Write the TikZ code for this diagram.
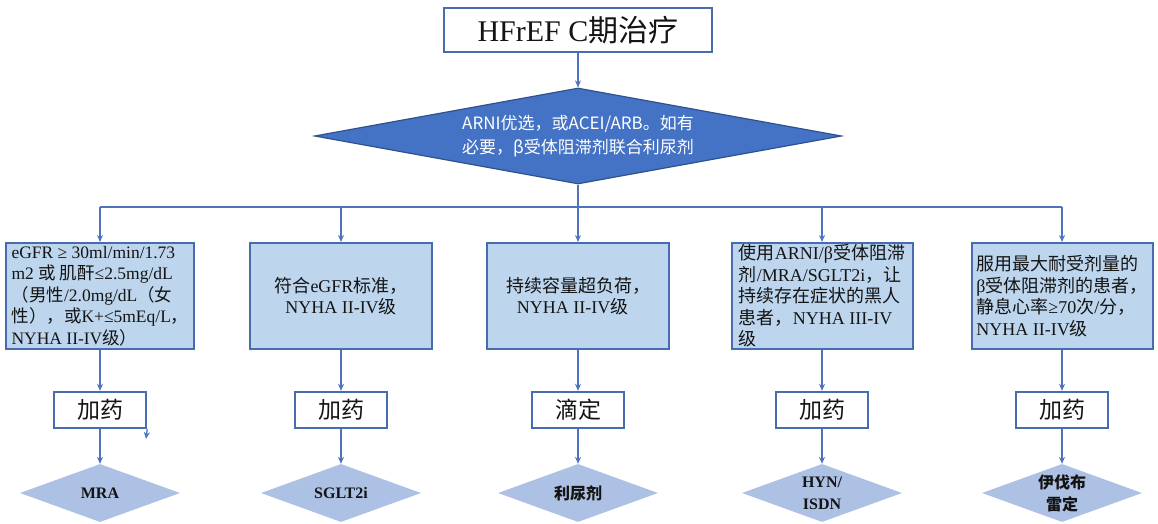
\documentclass[tikz,border=0pt]{standalone}
\usepackage{fontspec}
\setmainfont{Liberation Serif}
\newfontfamily\cjk{Noto Sans CJK SC}
\newcommand\zh[1]{{\cjk #1}}
\usetikzlibrary{shapes.geometric,arrows.meta}
\definecolor{boxfill}{RGB}{189,214,238}
\definecolor{boxline}{RGB}{72,108,176}
\definecolor{conn}{RGB}{80,115,190}
\definecolor{topfill}{RGB}{68,114,196}
\definecolor{topline}{RGB}{47,82,143}
\definecolor{botfill}{RGB}{172,193,228}
\definecolor{titletxt}{RGB}{20,20,20}
\tikzset{
  conline/.style={draw=conn, line width=1.3pt},
  arr/.style={conline, -{Stealth[length=7pt,width=6pt]}},
  titlebox/.style={draw=boxline, line width=2pt, fill=white, minimum width=268pt, minimum height=44pt, inner sep=0pt, font=\fontsize{30}{34}\selectfont, text=titletxt},
  topdia/.style={diamond, aspect=5.5, draw=topline, line width=1.2pt, fill=topfill, minimum width=527pt, minimum height=96pt, inner sep=0pt, text=white, align=center, font=\cjk\fontsize{17}{24}\selectfont},
  bigbox/.style={draw=boxline, line width=2pt, fill=boxfill, minimum width=182pt, minimum height=106pt, inner sep=0pt, align=left, font=\fontsize{18}{21.5}\selectfont, text=titletxt},
  smallbox/.style={draw=boxline, line width=2.4pt, fill=white, minimum width=92pt, minimum height=36pt, inner sep=0pt, font=\cjk\fontsize{23}{26}\selectfont, text=titletxt},
  botdia/.style={diamond, aspect=2.76, fill=botfill, minimum width=160pt, minimum height=58pt, inner sep=0pt, align=center, font=\bfseries\fontsize{16}{22}\selectfont, text=titletxt}
}
\begin{document}
\begin{tikzpicture}[x=1pt,y=-1pt]
\useasboundingbox[fill=white] (0,0) rectangle (1158,524);

\node[titlebox] (t) at (578,30) {HFrEF C\zh{期治疗}};
\node[topdia] (d) at (578,136) {ARNI优选，或ACEI/ARB。如有\\必要，β受体阻滞剂联合利尿剂};
\draw[arr] (t.south) -- (d.north);

\coordinate (j1) at (100,207);
\coordinate (j2) at (341,207);
\coordinate (j3) at (578,207);
\coordinate (j4) at (822,207);
\coordinate (j5) at (1062,207);
\draw[conline] (j1) -- (j5);
\draw[conline] (d.south) -- (j3);

\node[bigbox, minimum width=188pt, font=\fontsize{17.5}{21.5}\selectfont] (b1) at (100,296) {eGFR ≥ 30ml/min/1.73\\m2 \zh{或 肌酐}≤2.5mg/dL\\\zh{（男性}/2.0mg/dL\zh{（女}\\\zh{性），或}K+≤5mEq/L\zh{，}\\NYHA II-IV\zh{级）}};
\node[bigbox] (b2) at (341,296) {\zh{符合}eGFR\zh{标准，}\\\hspace*{0.6em}NYHA II-IV\zh{级}};
\node[bigbox] (b3) at (578,296) {\zh{持续容量超负荷，}\\\hspace*{0.6em}NYHA II-IV\zh{级}};
\node[bigbox, minimum width=181pt] (b4) at (822,296) {\zh{使用}ARNI/β\zh{受体阻滞}\\\zh{剂}/MRA/SGLT2i\zh{，让}\\\zh{持续存在症状的黑人}\\\zh{患者，}NYHA III-IV\\\zh{级}};
\node[bigbox, minimum width=181pt] (b5) at (1062,296) {\zh{服用最大耐受剂量的}\\β\zh{受体阻滞剂的患者，}\\\zh{静息心率}≥70\zh{次}/\zh{分，}\\NYHA II-IV\zh{级}};

\foreach \i in {1,...,5} {\draw[arr] (j\i) -- (b\i.north);}

\node[smallbox] (s1) at (100,410) {加药};
\node[smallbox] (s2) at (341,410) {加药};
\node[smallbox] (s3) at (578,410) {滴定};
\node[smallbox] (s4) at (822,410) {加药};
\node[smallbox] (s5) at (1062,410) {加药};

\node[botdia] (m1) at (100,493) {MRA};
\node[botdia] (m2) at (341,493) {SGLT2i};
\node[botdia] (m3) at (578,493) {\zh{利尿剂}};
\node[botdia] (m4) at (822,493) {HYN/\\ISDN};
\node[botdia] (m5) at (1062,493) {\zh{伊伐布}\\\zh{雷定}};

\foreach \i in {1,...,5} {
  \draw[arr] (b\i.south) -- (s\i.north);
  \draw[arr] (s\i.south) -- (m\i.north);
}
\coordinate (x1) at (146,439);
\draw[arr] (s1.south east) -- (x1);
\end{tikzpicture}
\end{document}
